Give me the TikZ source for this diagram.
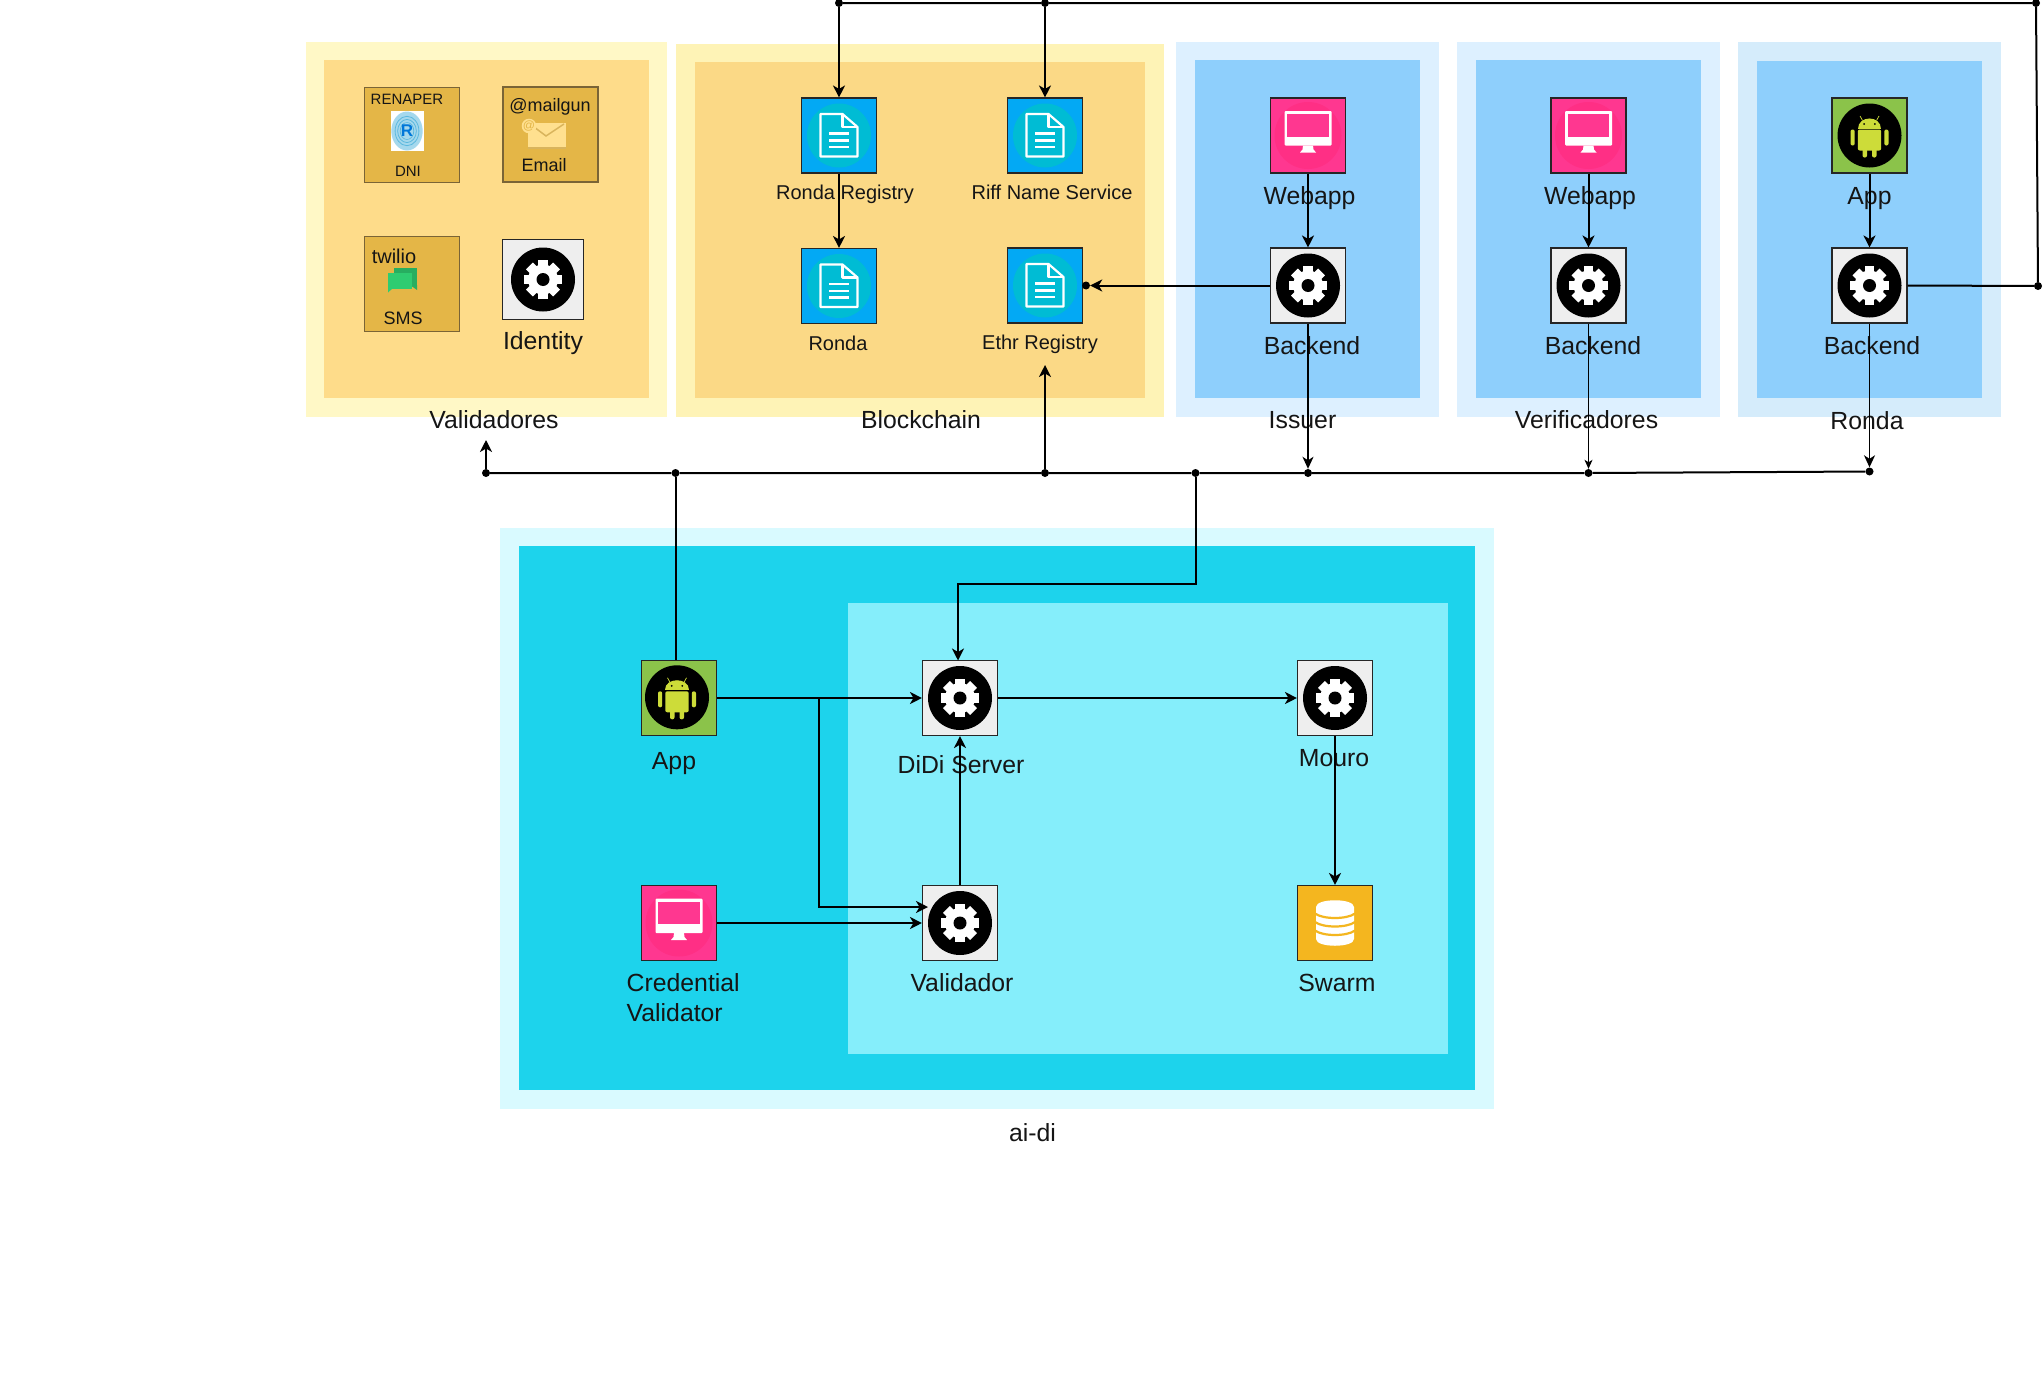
\documentclass[tikz,border=0pt]{standalone}
\usepackage{fontspec}
\setmainfont{Liberation Sans}
\usetikzlibrary{arrows.meta,calc}
\definecolor{txt}{HTML}{151515}
\definecolor{yOut}{HTML}{FFF8C6}
\definecolor{yIn}{HTML}{FEDC8A}
\definecolor{bOutY}{HTML}{FEF3B6}
\definecolor{bInY}{HTML}{FBD986}
\definecolor{blOut}{HTML}{DDF0FF}
\definecolor{blOutB}{HTML}{D5ECFB}
\definecolor{blIn}{HTML}{8ECFFC}
\definecolor{cyOut}{HTML}{D9FAFF}
\definecolor{cyMid}{HTML}{1DD3EC}
\definecolor{cyIn}{HTML}{85EEFB}
\definecolor{gold}{HTML}{E4B647}
\definecolor{goldLine}{HTML}{7A6436}
\definecolor{andGreen}{HTML}{8BC34A}
\definecolor{andLime}{HTML}{CDDC39}
\definecolor{pinkBox}{HTML}{FF3790}
\definecolor{pinkDisc}{HTML}{FF2F85}
\definecolor{docBlue}{HTML}{03A9F4}
\definecolor{docTeal}{HTML}{00BCD4}
\definecolor{gearGrey}{HTML}{EEEEEE}
\definecolor{swarmOr}{HTML}{F4B61F}
\definecolor{mailLight}{HTML}{FFE08F}
\definecolor{mailDark}{HTML}{D9B45C}
\definecolor{smsFront}{HTML}{2ECC71}
\definecolor{smsBack}{HTML}{27AE60}
\definecolor{renBlue}{HTML}{5BB8DE}
\tikzset{
  x=1pt,y=-1pt,
  iconbox/.style={draw=black!85,line width=1.1pt,inner sep=0pt,minimum width=75pt,minimum height=75pt},
  goldbox/.style={draw=goldLine,fill=gold,line width=1.4pt,inner sep=0pt,minimum width=95pt,minimum height=95pt},
  lblL/.style={anchor=base,inner sep=0pt,text=txt,font=\fontsize{24.8}{30}\selectfont},
  lblN/.style={anchor=base,inner sep=0pt,text=txt,font=\fontsize{20}{24}\selectfont},
  lblS/.style={anchor=base,inner sep=0pt,text=txt,font=\fontsize{18}{22}\selectfont},
  lblT/.style={anchor=base,inner sep=0pt,text=txt,font=\fontsize{15}{18}\selectfont},
  jdot/.style={circle,fill=black,inner sep=0pt,minimum size=8pt},
  conn/.style={draw=black,line width=2pt},
  arr/.style={conn,-{Stealth[length=12pt,width=12pt,inset=3.5pt]}},
  arrthin/.style={draw=black,line width=1pt,-{Stealth[length=9pt,width=8pt,inset=2.5pt]}},
  arrmid/.style={draw=black,line width=1.6pt,-{Stealth[length=12pt,width=11pt,inset=3.5pt]}},
  gearicon/.pic={
    \fill[black] (0,0) circle (32);
    \fill[white] (0,0) circle (15);
    \foreach \a in {0,45,...,315}{
      \fill[white,rotate=\a] (-4.8,-19.2) rectangle (4.8,0);
    }
    \fill[black] (0,0) circle (6.5);
  },
  docicon/.pic={
    \fill[docTeal] (0,0) circle (32);
    \draw[white,line width=2.2pt,line join=round] (-18.5,-21.5) -- (3.5,-21.5) -- (18.5,-8.5) -- (18.5,21) -- (-18.5,21) -- cycle;
    \draw[white,line width=2.2pt,line join=round] (3.5,-21.5) -- (3.5,-8.5) -- (18.5,-8.5);
    \foreach \v in {-2,5,11.5}{\draw[white,line width=2.2pt] (-10,\v) -- (10,\v);}
  },
  monitoricon/.pic={
    \fill[pinkDisc] (0,0) circle (33.5);
    \fill[white,rounded corners=1pt] (-23.5,-24.5) rectangle (23.5,10);
    \fill[pinkBox] (-20.7,-21.5) rectangle (20.7,1);
    \fill[white] (-5,10) -- (5,10) -- (5.5,14) -- (8,17) -- (-8,17) -- (-5.5,14) -- cycle;
  },
  androidicon/.pic={
    \fill[black] (0,0) circle (32);
    \fill[andLime] (-11.7,-7) .. controls (-11.7,-20.5) and (11.7,-20.5) .. (11.7,-7) -- cycle;
    \draw[andLime,line width=0.7pt] (-7,-15) -- (-9.5,-19.5) (7,-15) -- (9.5,-19.5);
    \fill[black] (-5.3,-11.5) circle (1) (5.3,-11.5) circle (1);
    \fill[andLime,rounded corners=2pt] (-11.7,-6) rectangle (11.7,15);
    \fill[andLime,rounded corners=2pt] (-19,-6) rectangle (-14.8,10);
    \fill[andLime,rounded corners=2pt] (14.8,-6) rectangle (19,10);
    \fill[andLime,rounded corners=2pt] (-7,10) rectangle (-2.5,22);
    \fill[andLime,rounded corners=2pt] (2.5,10) rectangle (7,22);
  },
  dbicon/.pic={
    \fill[white] (-19,-16) .. controls (-19,-25) and (19,-25) .. (19,-16) -- (19,16) .. controls (19,25) and (-19,25) .. (-19,16) -- cycle;
    \foreach \v in {-6.5,2,10.5}{
      \draw[swarmOr,line width=2.2pt] (-20,\v-3) .. controls (-12,\v+3) and (12,\v+3) .. (20,\v-3);
    }
  },
}
\begin{document}
\begin{tikzpicture}
\useasboundingbox (0,0) rectangle (2043,1373);
% --- regions
\fill[yOut] (306,42) rectangle (667,417);
\fill[yIn] (324,60) rectangle (649,398);
\fill[bOutY] (676,44) rectangle (1164,417);
\fill[bInY] (695,62) rectangle (1145,398);
\fill[blOut] (1176,42) rectangle (1439,417);
\fill[blIn] (1195,60) rectangle (1420,398);
\fill[blOut] (1457,42) rectangle (1720,417);
\fill[blIn] (1476,60) rectangle (1701,398);
\fill[blOutB] (1738,42) rectangle (2001,417);
\fill[blIn] (1757,61) rectangle (1982,398);
\fill[cyOut] (500,528) rectangle (1494,1109);
\fill[cyMid] (519,546) rectangle (1475,1090);
\fill[cyIn] (848,603) rectangle (1448,1054);
% --- Validadores
\node[goldbox] (ren) at (412,135) {};
\fill[white] (391,111) rectangle (424,151);
\fill[renBlue!55] (407,131) ellipse (15.7 and 19.5);
\foreach \k in {14,11,8}{\draw[renBlue,line width=0.8pt] (407,131) ellipse (\k*0.85 and \k*1.05);}
\fill[renBlue!55] (407,131) ellipse (6 and 8);
\node[inner sep=0pt,text=blue!45!cyan!85!black,font=\fontsize{17}{20}\bfseries\selectfont] (renR) at (407,131) {R};
\node[goldbox] (mail) at (550.5,134.5) {};
\fill[mailLight] (528,123) rectangle (566,148);
\draw[mailDark,line width=1.2pt] (528,148) -- (566,148);
\draw[mailDark,line width=1.5pt] (530,124) -- (546,136) -- (564,124);
\fill[mailLight] (529,126) circle (7.3);
\node[inner sep=0pt,text=gold,font=\fontsize{12}{14}\selectfont] (mailAt) at (529,125.5) {@};
\node[goldbox] (tw) at (412,284) {};
\fill[smsBack] (394,268) rectangle (417,286) ;
\fill[smsBack] (410,285) -- (417,285) -- (417,290) -- cycle;
\fill[smsFront] (388,273) rectangle (412,289);
\fill[smsFront] (388,288) -- (393,288) -- (388,292.5) -- cycle;
\node[iconbox,fill=gearGrey,minimum width=81pt,minimum height=80pt] (ident) at (543,279.5) {};
\pic at (ident.center) {gearicon};
\node[lblT] (lRen) at (407,104) {RENAPER};
\node[lblT] (lDni) at (408,176) {DNI};
\node[lblS] (lMg) at (550,111) {@mailgun};
\node[lblS] (lEm) at (544,171) {Email};
\node[lblN] (lTw) at (394,263) {twilio};
\node[lblS] (lSms) at (403,324) {SMS};
\node[lblL] (lId) at (543,349) {Identity};
\node[lblL] (lVal) at (494,428) {Validadores};
% --- Blockchain
\node[iconbox,fill=docBlue] (rr) at (839,135.5) {};
\pic at (rr.center) {docicon};
\node[iconbox,fill=docBlue] (rns) at (1045,135.5) {};
\pic at (rns.center) {docicon};
\node[iconbox,fill=docBlue] (ron) at (839,286) {};
\pic at (ron.center) {docicon};
\node[iconbox,fill=docBlue] (ethr) at (1045,285.5) {};
\pic at (ethr.center) {docicon};
\node[lblN] (lRr) at (845,199) {Ronda Registry};
\node[lblN] (lRns) at (1052,199) {Riff Name Service};
\node[lblN] (lRon) at (838,350) {Ronda};
\node[lblN] (lEthr) at (1040,349) {Ethr Registry};
\node[lblL] (lBc) at (921,428) {Blockchain};
% --- Issuer
\node[iconbox,fill=pinkBox] (iw) at (1308,135.5) {};
\pic at (iw.center) {monitoricon};
\node[iconbox,fill=gearGrey] (ib) at (1308,285.5) {};
\pic at (ib.center) {gearicon};
\node[lblL] (lIw) at (1309.5,204) {Webapp};
\node[lblL] (lIb) at (1312,354) {Backend};
\node[lblL] (lIs) at (1302.5,428) {Issuer};
% --- Verificadores
\node[iconbox,fill=pinkBox] (vw) at (1588.5,135.5) {};
\pic at (vw.center) {monitoricon};
\node[iconbox,fill=gearGrey] (vb) at (1588.5,285.5) {};
\pic at (vb.center) {gearicon};
\node[lblL] (lVw) at (1590,204) {Webapp};
\node[lblL] (lVb) at (1593,354) {Backend};
\node[lblL] (lVe) at (1586.5,428) {Verificadores};
% --- Ronda
\node[iconbox,fill=andGreen] (ra) at (1869.5,135.5) {};
\pic at (ra.center) {androidicon};
\node[iconbox,fill=gearGrey] (rb) at (1869.5,285.5) {};
\pic at (rb.center) {gearicon};
\node[lblL] (lRa) at (1869.5,204) {App};
\node[lblL] (lRb) at (1872,354) {Backend};
\node[lblL] (lRo) at (1867,429) {Ronda};
% --- ai-di
\node[iconbox,fill=andGreen] (app) at (679,698) {};
\pic at ($(app.center)+(-2,-0.7)$) {androidicon};
\node[iconbox,fill=gearGrey] (didi) at (960,698) {};
\pic at (didi.center) {gearicon};
\node[iconbox,fill=gearGrey] (mou) at (1335,698) {};
\pic at (mou.center) {gearicon};
\node[iconbox,fill=pinkBox] (cred) at (679,923) {};
\pic at (cred.center) {monitoricon};
\node[iconbox,fill=gearGrey] (vald) at (960,923) {};
\pic at (vald.center) {gearicon};
\node[iconbox,fill=swarmOr] (sw) at (1335,923) {};
\pic at (sw.center) {dbicon};
\node[lblL] (lApp) at (674,769) {App};
\node[lblL] (lDd) at (961,773) {DiDi Server};
\node[lblL,anchor=base west,align=left] (lCr) at (626.5,1021) {Credential\\Validator};
\node[lblL] (lVd) at (962,991) {Validador};
\node[lblL] (lMo) at (1334,766) {Mouro};
\node[lblL] (lSw) at (1337,991) {Swarm};
\node[lblL] (lAi) at (1032.5,1141) {ai-di};
% --- junctions
\node[jdot] (jTa) at (839,3) {};
\node[jdot] (jTb) at (1045,3) {};
\node[jdot] (jTc) at (2036,3) {};
\node[jdot] (jRr) at (2038,286) {};
\node[jdot] (jL) at (486,473) {};
\node[jdot] (jApp) at (675.5,473) {};
\node[jdot] (jEu) at (1045,473) {};
\node[jdot] (jD) at (1195.5,473) {};
\node[jdot] (jI) at (1308,473) {};
\node[jdot] (jV) at (1588.5,473) {};
\node[jdot] (jR) at (1869.5,471.5) {};
\node[jdot] (jE) at (1086,285.5) {};
\coordinate (upL) at (486,440);
\coordinate (upE) at (1045,365);
\coordinate (bD) at (1195.5,584);
\coordinate (bD2) at (958,584);
\coordinate (dTop) at (958,660.5);
\coordinate (bB) at (819,698);
\coordinate (bB2) at (819,907);
\coordinate (vT) at (928,907);
% --- connectors
\draw[conn] (jTa) -- (jTb) -- (jTc) -- (jRr);
\draw[conn] (rb.east) -- (jRr);
\draw[arr] (jTa) -- (rr.north);
\draw[arr] (jTb) -- (rns.north);
\draw[arr] (rr.south) -- (ron.north);
\draw[arr] (ib.west) -- (jE);
\draw[arr] (iw.south) -- (ib.north);
\draw[arr] (vw.south) -- (vb.north);
\draw[arr] (ra.south) -- (rb.north);
\draw[arrmid] (ib.south) -- (jI);
\draw[arrthin] (vb.south) -- (jV);
\draw[arrmid] (rb.south) -- (jR);
\draw[conn] (jL) -- (jApp) -- (jEu) -- (jD) -- (jI) -- (jV) -- (jR);
\draw[arr] (jL) -- (upL);
\draw[arr] (jEu) -- (upE);
\draw[conn] (jApp) -- (jApp |- app.north);
\draw[arr] (jD) -- (bD) -- (bD2) -- (dTop);
\draw[arr] (app.east) -- (didi.west);
\draw[arr] (bB) -- (bB2) -- (vT);
\draw[arr] (cred.east) -- (vald.west);
\draw[arr] (vald.north) -- (didi.south);
\draw[arr] (didi.east) -- (mou.west);
\draw[arr] (mou.south) -- (sw.north);
\end{tikzpicture}
\end{document}
